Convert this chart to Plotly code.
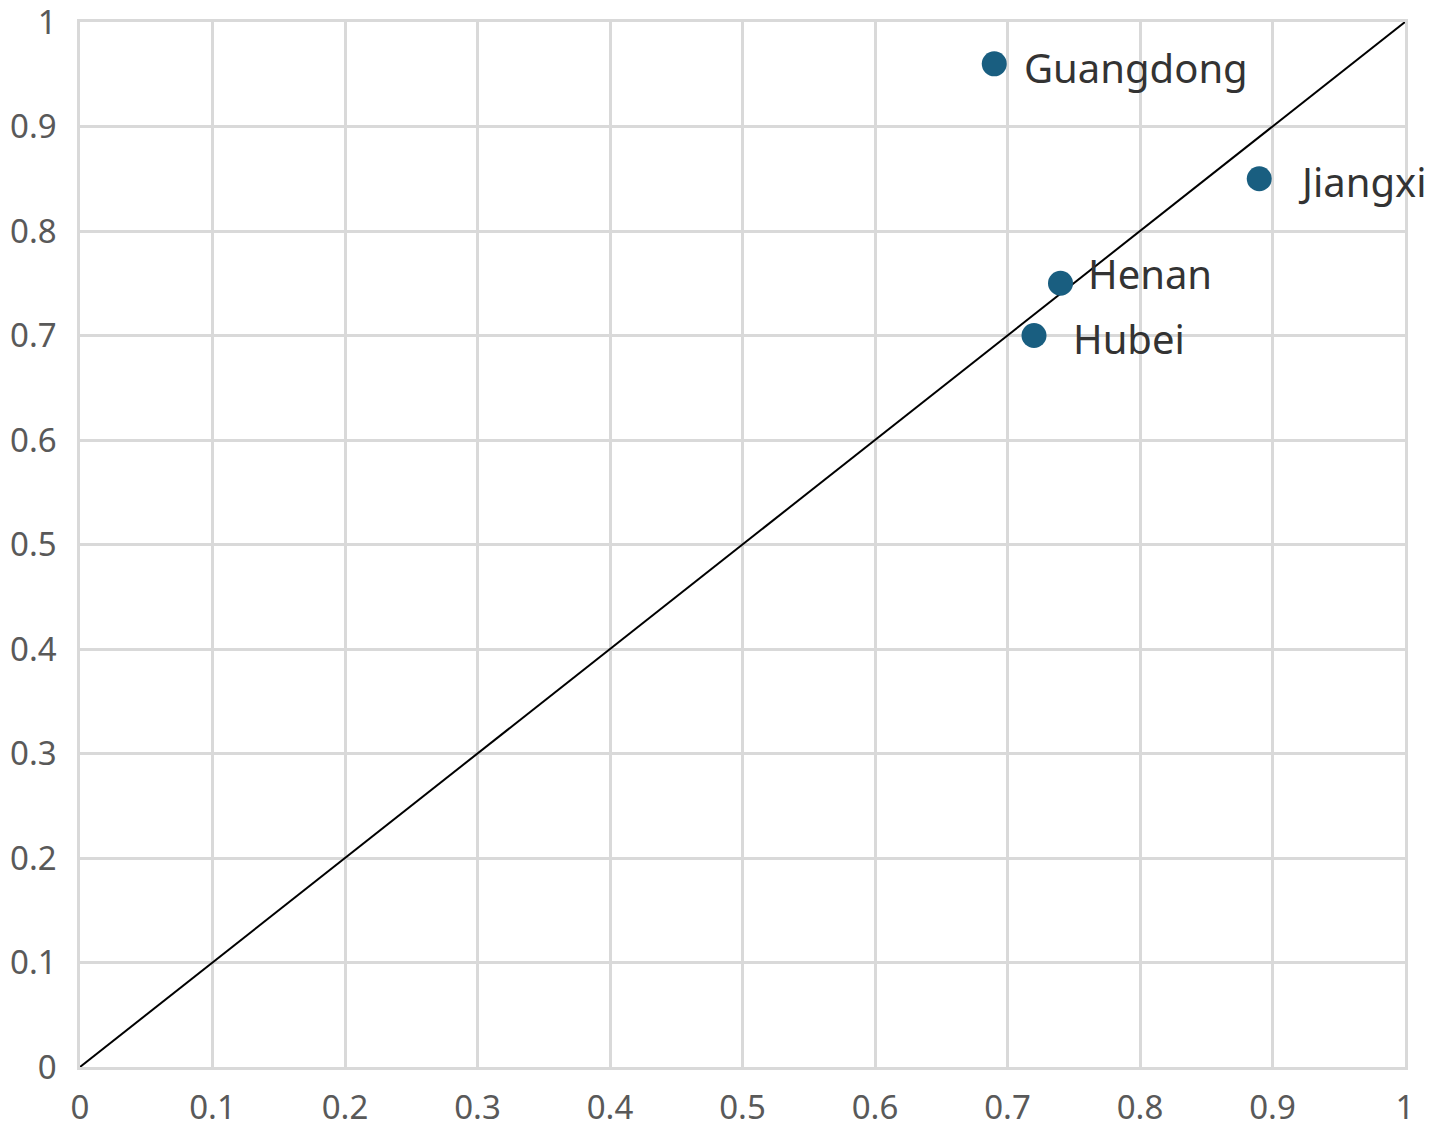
import plotly.graph_objects as go

provinces = ['Guangdong', 'Jiangxi', 'Henan', 'Hubei']
x_values = [0.69, 0.89, 0.74, 0.72]
y_values = [0.96, 0.85, 0.75, 0.70]

ref_line = [0, 1]
tick_vals = [0, 0.1, 0.2, 0.3, 0.4, 0.5, 0.6, 0.7, 0.8, 0.9, 1]
tick_text = ['0', '0.1', '0.2', '0.3', '0.4', '0.5', '0.6', '0.7', '0.8', '0.9', '1']

# label nudges (pixels) so text sits like the original
label_shift_x = [28, 37, 25, 37]
label_shift_y = [-4, -3, 10, -3]

fig = go.Figure()

fig.add_trace(go.Scatter(
    x=ref_line, y=ref_line,
    mode='lines',
    line=dict(color='black', width=2),
    hoverinfo='skip',
    showlegend=False,
))

fig.add_trace(go.Scatter(
    x=x_values, y=y_values,
    mode='markers',
    marker=dict(color='#195e80', size=25),
    text=provinces,
    showlegend=False,
))

for name, xv, yv, dx, dy in zip(provinces, x_values, y_values, label_shift_x, label_shift_y):
    fig.add_annotation(
        x=xv, y=yv, text=name,
        showarrow=False,
        xanchor='left', yanchor='middle',
        xshift=dx, yshift=dy,
        font=dict(family='Noto Sans', size=40, color='#333333'),
    )

axis_style = dict(
    range=[0, 1],
    tickvals=tick_vals,
    ticktext=tick_text,
    showgrid=True,
    gridcolor='#d9d9d9',
    gridwidth=2.5,
    zeroline=False,
    showline=True,
    linecolor='#d9d9d9',
    linewidth=2.5,
    mirror=True,
    ticks='',
    automargin=False,
    ticklabeloverflow='allow',
    tickfont=dict(family='Noto Sans', size=33, color='#595959'),
)

fig.update_layout(
    width=1429, height=1134,
    margin=dict(l=80, r=24, t=22, b=67),
    plot_bgcolor='white',
    paper_bgcolor='white',
    xaxis=dict(axis_style, ticklabelstandoff=10),
    yaxis=dict(axis_style, ticklabelstandoff=14),
)

# drop the default body margin so the figure sits at the page corner
fig.write_html("out.html", config={'displayModeBar': False},
               post_script="document.body.style.margin='0';")
